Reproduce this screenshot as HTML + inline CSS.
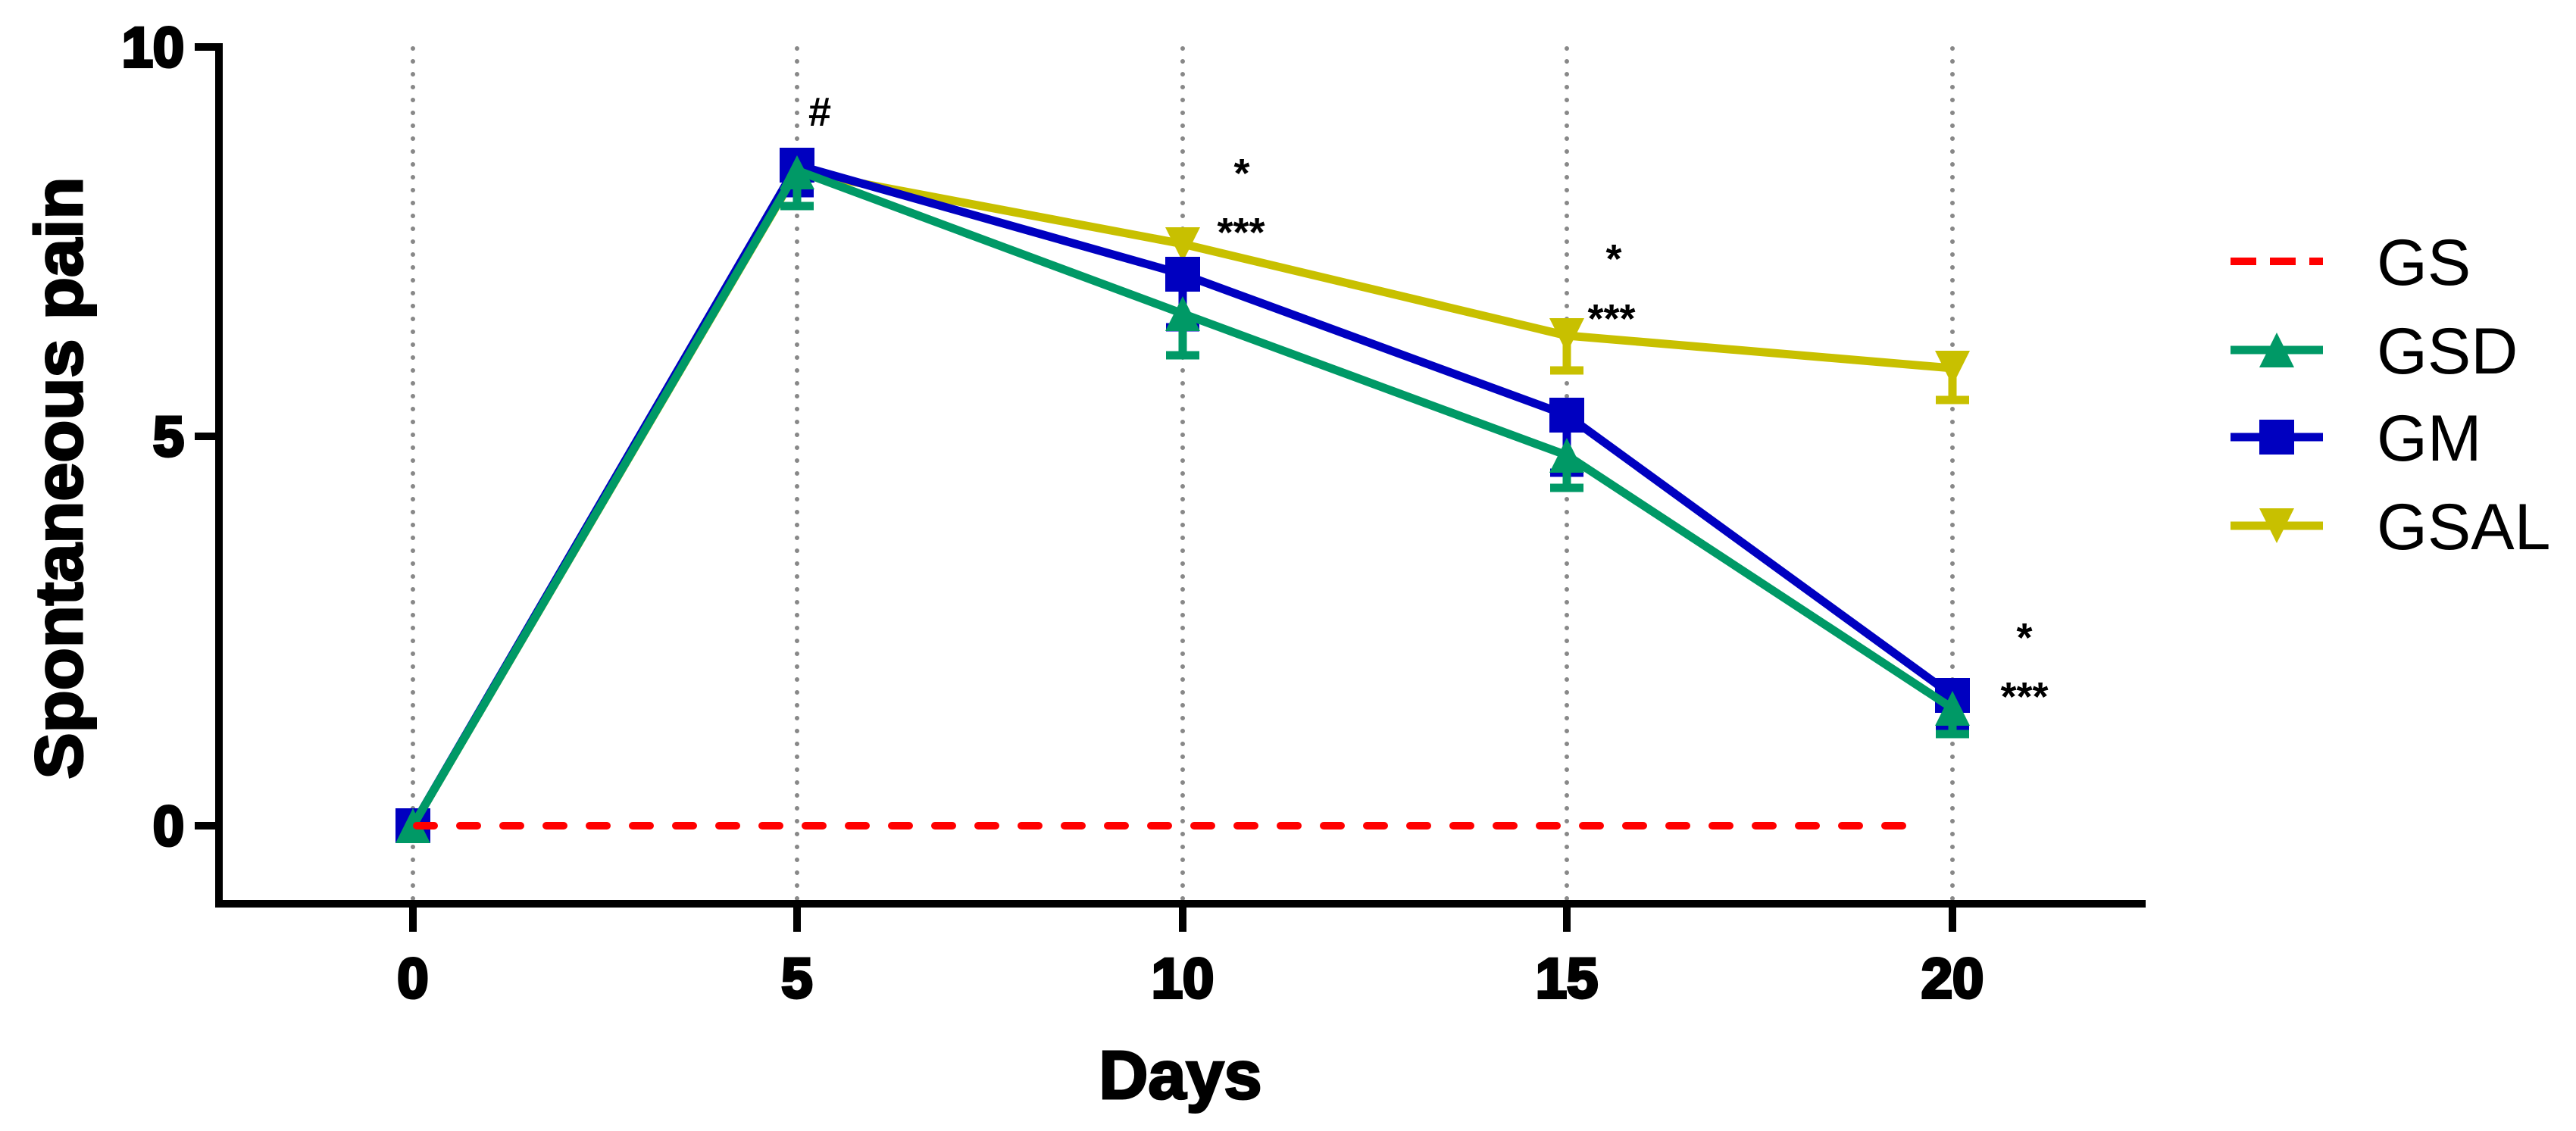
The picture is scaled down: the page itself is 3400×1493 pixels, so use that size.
<!DOCTYPE html>
<html><head><meta charset="utf-8"><style>
html,body{margin:0;padding:0;background:#fff;}
svg{display:block;}
text{font-family:"Liberation Sans",Arial,sans-serif;}
</style></head><body>
<svg width="3400" height="1493" viewBox="0 0 3400 1493" xmlns="http://www.w3.org/2000/svg">
<rect width="3400" height="1493" fill="#fff"/>
<g stroke="#888" stroke-width="6" stroke-linecap="round" stroke-dasharray="0 17">
<line x1="545" y1="64" x2="545" y2="1190"/>
<line x1="1052" y1="64" x2="1052" y2="1190"/>
<line x1="1561" y1="64" x2="1561" y2="1190"/>
<line x1="2068" y1="64" x2="2068" y2="1190"/>
<line x1="2577" y1="64" x2="2577" y2="1190"/>
</g>
<g stroke="#000" stroke-width="10" fill="none">
<polyline points="289,57 289,1193 2832,1193"/>
<line x1="257" y1="62" x2="289" y2="62"/>
<line x1="257" y1="576" x2="289" y2="576"/>
<line x1="257" y1="1090" x2="289" y2="1090"/>
<line x1="545" y1="1193" x2="545" y2="1230"/>
<line x1="1052" y1="1193" x2="1052" y2="1230"/>
<line x1="1561" y1="1193" x2="1561" y2="1230"/>
<line x1="2068" y1="1193" x2="2068" y2="1230"/>
<line x1="2577" y1="1193" x2="2577" y2="1230"/>
</g>
<g font-size="74" font-weight="bold" fill="#000" stroke="#000" stroke-width="4">
<text x="243" y="88" text-anchor="end">10</text>
<text x="243" y="602" text-anchor="end">5</text>
<text x="243" y="1116" text-anchor="end">0</text>
<text x="545" y="1317" text-anchor="middle">0</text>
<text x="1052" y="1317" text-anchor="middle">5</text>
<text x="1561" y="1317" text-anchor="middle">10</text>
<text x="2068" y="1317" text-anchor="middle">15</text>
<text x="2577" y="1317" text-anchor="middle">20</text>
</g>
<text x="1558" y="1450" font-size="90" font-weight="bold" text-anchor="middle" stroke="#000" stroke-width="3">Days</text>
<text transform="translate(108,631) rotate(-90)" font-size="88" font-weight="bold" text-anchor="middle" textLength="795" lengthAdjust="spacingAndGlyphs" stroke="#000" stroke-width="3">Spontaneous pain</text>

<!-- GSAL -->
<g stroke="#c8c000" stroke-width="11" fill="none">
<polyline points="545,1090 1052,226 1561,322 2068,443 2577,486"/>
<line x1="2068" y1="443" x2="2068" y2="489"/><line x1="2046" y1="489" x2="2090" y2="489"/>
<line x1="2577" y1="486" x2="2577" y2="528"/><line x1="2555" y1="528" x2="2599" y2="528"/>
</g>
<g fill="#c8c000">
<polygon points="1029,203 1075,203 1052,249"/>
<polygon points="1538,300 1584,300 1561,346"/>
<polygon points="2045,420 2091,420 2068,466"/>
<polygon points="2554,463 2600,463 2577,509"/>
</g>
<!-- GM -->
<g stroke="#0000c0" stroke-width="11" fill="none">
<polyline points="545,1090 1052,218 1561,362 2068,548 2577,918"/>
<line x1="1052" y1="218" x2="1052" y2="255"/><line x1="1030" y1="255" x2="1074" y2="255"/>
<line x1="1561" y1="362" x2="1561" y2="432"/><line x1="1539" y1="432" x2="1583" y2="432"/>
<line x1="2068" y1="548" x2="2068" y2="624"/><line x1="2046" y1="624" x2="2090" y2="624"/>
<line x1="2577" y1="918" x2="2577" y2="961"/><line x1="2555" y1="961" x2="2599" y2="961"/>
</g>
<g fill="#0000c0">
<rect x="522" y="1067" width="46" height="46"/>
<rect x="1029" y="195" width="46" height="46"/>
<rect x="1538" y="339" width="46" height="46"/>
<rect x="2045" y="525" width="46" height="46"/>
<rect x="2554" y="895" width="46" height="46"/>
</g>
<!-- GSD -->
<g stroke="#009966" stroke-width="11" fill="none">
<polyline points="545,1090 1052,225 1561,414 2068,601 2577,935"/>
<line x1="1052" y1="225" x2="1052" y2="272"/><line x1="1030" y1="272" x2="1074" y2="272"/>
<line x1="1561" y1="414" x2="1561" y2="469"/><line x1="1539" y1="469" x2="1583" y2="469"/>
<line x1="2068" y1="601" x2="2068" y2="644"/><line x1="2046" y1="644" x2="2090" y2="644"/>
<line x1="2577" y1="935" x2="2577" y2="969"/><line x1="2555" y1="969" x2="2599" y2="969"/>
</g>
<g fill="#009966">
<polygon points="545,1067 568,1113 522,1113"/>
<polygon points="1052,205 1075,250 1029,250"/>
<polygon points="1561,391 1584,437 1538,437"/>
<polygon points="2068,578 2091,624 2045,624"/>
<polygon points="2577,912 2600,958 2554,958"/>
</g>
<line x1="550" y1="1090" x2="2545" y2="1090" stroke="#ff0000" stroke-width="10" stroke-linecap="round" stroke-dasharray="23 34"/>

<g font-size="54" font-weight="bold" text-anchor="middle" fill="#000">
<text x="1082" y="166">#</text>
<text x="1639" y="247">*</text>
<text x="1638" y="325">***</text>
<text x="2130" y="360">*</text>
<text x="2127" y="439">***</text>
<text x="2672" y="860">*</text>
<text x="2672" y="938">***</text>
</g>

<!-- legend -->
<line x1="2944" y1="345" x2="3066" y2="345" stroke="#ff0000" stroke-width="10" stroke-dasharray="34 18"/>
<line x1="2944" y1="462" x2="3066" y2="462" stroke="#009966" stroke-width="11"/>
<polygon points="3005,439 3028,485 2982,485" fill="#009966"/>
<line x1="2944" y1="577" x2="3066" y2="577" stroke="#0000c0" stroke-width="11"/>
<rect x="2982" y="554" width="46" height="46" fill="#0000c0"/>
<line x1="2944" y1="694" x2="3066" y2="694" stroke="#c8c000" stroke-width="11"/>
<polygon points="2982,671 3028,671 3005,717" fill="#c8c000"/>
<g font-size="86" fill="#000">
<text x="3137" y="376">GS</text>
<text x="3137" y="493">GSD</text>
<text x="3137" y="608">GM</text>
<text x="3137" y="725">GSAL</text>
</g>
</svg>
</body></html>
